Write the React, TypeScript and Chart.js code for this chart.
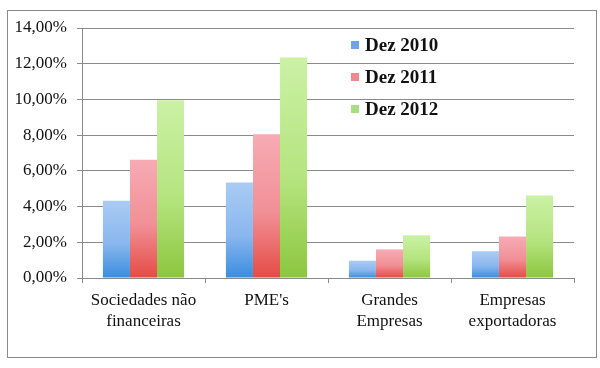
import React, { useEffect, useRef } from "react";
import { Chart, registerables } from "chart.js";

Chart.register(...registerables);

const categories: string[][] = [
  ["Sociedades não", "financeiras"],
  ["PME's"],
  ["Grandes", "Empresas"],
  ["Empresas", "exportadoras"],
];
const seriesLabels = ["Dez 2010", "Dez 2011", "Dez 2012"];
const dez2010 = [4.33, 5.35, 0.97, 1.5];
const dez2011 = [6.62, 8.05, 1.6, 2.32];
const dez2012 = [9.95, 12.35, 2.4, 4.62];
const yTicks = [0, 2, 4, 6, 8, 10, 12, 14];

const palettes = [
  { top: "#aacbf3", bottom: "#3a8ddf", key: "#6ea3e6" },
  { top: "#f7abb4", bottom: "#e54b44", key: "#ef8a8e" },
  { top: "#cbf1a5", bottom: "#8cc63e", key: "#a9dd84" },
];

const SERIF = "'Liberation Serif', 'Times New Roman', serif";

export default function App() {
  const ref = useRef<HTMLCanvasElement | null>(null);

  useEffect(() => {
    document.body.style.margin = "0";
    const canvas = ref.current;
    if (!canvas) return;

    const gradientFor = (idx: number) => (ctx: any) => {
      const chart = ctx.chart;
      const y = chart.scales?.y;
      if (!y || ctx.type !== "data") return palettes[idx].bottom;
      const v = ctx.raw as number;
      const y0 = y.getPixelForValue(0);
      const y1 = y.getPixelForValue(v);
      if (!isFinite(y0) || !isFinite(y1) || y0 === y1) return palettes[idx].bottom;
      const g = chart.ctx.createLinearGradient(0, y1, 0, y0);
      g.addColorStop(0, palettes[idx].top);
      g.addColorStop(0.55, palettes[idx].top === "#aacbf3" ? "#8ab7ee" : palettes[idx].top === "#f7abb4" ? "#f18f96" : "#b5e47f");
      g.addColorStop(1, palettes[idx].bottom);
      return g;
    };

    const frame = {
      id: "frame",
      beforeDraw(chart: any) {
        const c = chart.ctx;
        c.save();
        c.fillStyle = "#ffffff";
        c.fillRect(0, 0, chart.width, chart.height);
        c.strokeStyle = "#8a8a8a";
        c.lineWidth = 1;
        c.strokeRect(7.5, 10.5, 589, 347);
        c.restore();
      },
      afterDatasetsDraw(chart: any) {
        const c = chart.ctx;
        c.save();
        c.font = `bold 19px ${SERIF}`;
        c.textBaseline = "middle";
        c.textAlign = "left";
        chart.data.datasets.forEach((ds: any, i: number) => {
          const cy = 45 + i * 32;
          c.fillStyle = palettes[i].key;
          c.fillRect(351, cy - 4, 8, 8);
          c.fillStyle = "#111111";
          c.fillText(ds.label, 365, cy + 1);
        });
        c.restore();
      },
    };

    const chart = new Chart(canvas, {
      type: "bar",
      data: {
        labels: categories,
        datasets: [dez2010, dez2011, dez2012].map((d, i) => ({
          label: seriesLabels[i],
          data: d,
          backgroundColor: gradientFor(i),
          borderWidth: 0,
          categoryPercentage: 0.66,
          barPercentage: 1,
        })),
      },
      options: {
        animation: false,
        responsive: false,
        layout: { padding: { left: 0, right: 26, top: 28, bottom: 0 } },
        plugins: { legend: { display: false }, tooltip: { enabled: false } },
        scales: {
          x: {
            grid: {
              offset: true,
              drawOnChartArea: false,
              drawTicks: true,
              tickLength: 5,
              color: "#8a8a8a",
            },
            border: { color: "#8a8a8a" },
            ticks: {
              color: "#111111",
              font: { family: SERIF, size: 17, lineHeight: 1.18 },
              padding: 8,
              maxRotation: 0,
              autoSkip: false,
            },
            afterFit(scale: any) {
              scale.height = 90;
            },
          },
          y: {
            min: 0,
            max: 14,
            afterBuildTicks(scale: any) {
              scale.ticks = yTicks.map((v) => ({ value: v }));
            },
            grid: { color: "#8a8a8a", tickLength: 5 },
            border: { color: "#8a8a8a" },
            ticks: {
              color: "#111111",
              font: { family: SERIF, size: 17 },
              padding: 10,
              callback: (v: any) => Number(v).toFixed(2).replace(".", ",") + "%",
            },
            afterFit(scale: any) {
              scale.width = 82;
            },
          },
        },
      },
      plugins: [frame],
    });

    return () => chart.destroy();
  }, []);

  return (
    <div style={{ width: 600, height: 368 }}>
      <canvas ref={ref} width={600} height={368} style={{ display: "block" }} />
    </div>
  );
}
